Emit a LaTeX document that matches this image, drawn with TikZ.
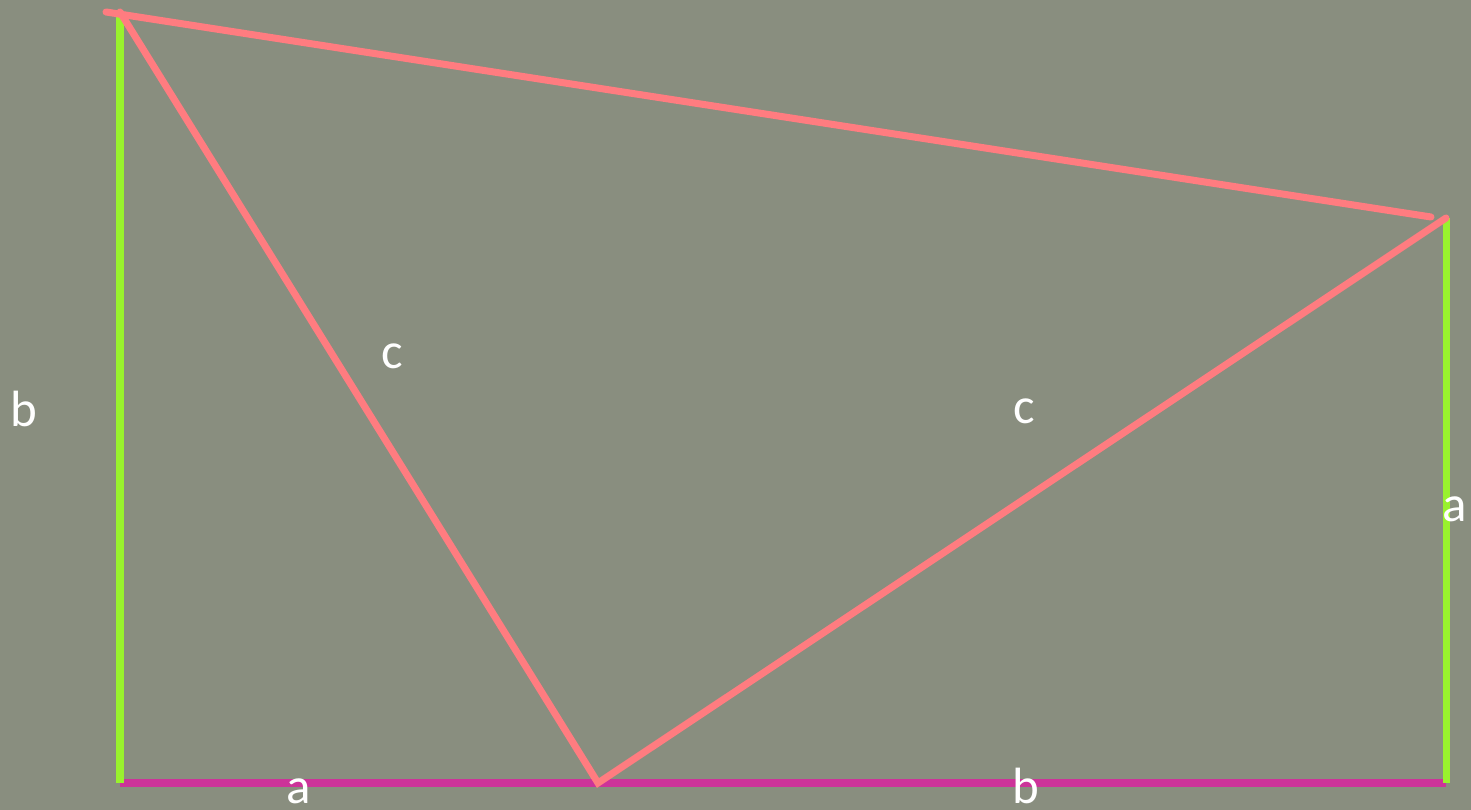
\documentclass[tikz,border=0pt]{standalone}
\usepackage{fontspec}
\setmainfont{Carlito}
\usepackage{tikz}
\usetikzlibrary{positioning}
\definecolor{slate}{RGB}{137,142,127}
\definecolor{salmon}{RGB}{255,124,128}
\definecolor{lime}{RGB}{153,242,46}
\definecolor{plum}{RGB}{204,51,153}

\begin{document}
\begin{tikzpicture}[x=0.02cm,y=-0.02cm,
  leg/.style={line width=4pt},
  hyp/.style={salmon,line width=4pt,line cap=round},
  lbl/.style={text=white,anchor=base,inner sep=0pt,
    font=\fontsize{29}{34}\selectfont}]
 \fill[slate] (0,0) rectangle (1471,810);
 \useasboundingbox (0,0) rectangle (1471,810);
 % corners of the trapezoid
 \coordinate (tl) at (120,12);
 \coordinate (tr) at (1446,218);
 \coordinate (bl) at (120,783);
 \coordinate (br) at (1446,783);
 \coordinate (p) at (598,783);
 \coordinate (t1) at (106,12);
 \coordinate (t2) at (1431,217);
 \draw[leg,plum] (bl)--(br);
 \draw[leg,lime] (tl)--(bl);
 \draw[leg,lime] (tr)--(br);
 \draw[hyp] (t1)--(t2);
 \draw[hyp] (tl)--(p)--(tr);
 % side labels
 \node[lbl] (bL) at (24,427) {b};
 \node[lbl] (c1) at (392,369) {c};
 \node[lbl] (c2) at (1024,424) {c};
 \node[lbl] (aR) at (1455,522) {a};
 \node[lbl] (aB) at (299,803) {a};
 \node[lbl] (bB) at (1026,803) {b};
\end{tikzpicture}
\end{document}
